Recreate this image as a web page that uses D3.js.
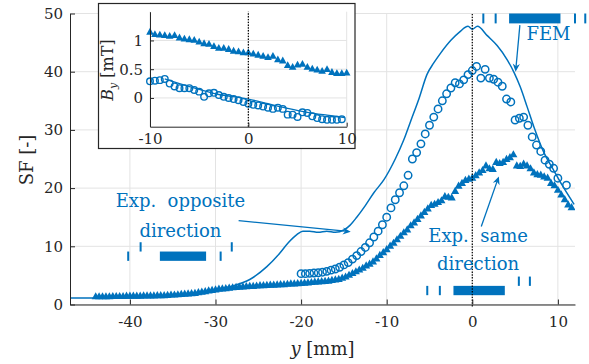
<!DOCTYPE html>
<html>
<head>
<meta charset="utf-8">
<script src="https://cdn.jsdelivr.net/npm/d3@7"></script>
<style>
  body { margin: 0; background: #fff; }
  svg { display: block; }
  svg text { font-family: "DejaVu Serif", "Liberation Serif", serif; }
</style>
</head>
<body>
<div id="chart"></div>
<script>
// ---- main plot data (y in mm, SF) ----
const xTicks = [-40, -30, -20, -10, 0, 10];
const yTicks = [0, 10, 20, 30, 40, 50];

// FEM curve
const femX = [-47, -40, -36, -33, -30, -28, -26, -24, -22.5, -21.5, -20.5, -19.8, -19, -18, -17, -16, -15, -14.3, -13.5, -12.5, -11.5, -10.3, -9, -8, -7.2, -6.2, -5.3, -4.5, -3.7, -2.5, -1.5, -0.5, 0, 0.6, 1.75, 2.9, 4.1, 4.9, 5.6, 6.4, 7.2, 8.4, 9.5, 10.5, 11.9];
const femY = [1.1, 1.15, 1.4, 1.9, 2.6, 3.2, 4.3, 6.5, 8.8, 10.6, 12.0, 12.6, 12.6, 12.4, 12.6, 12.4, 12.8, 13.6, 15.0, 17.0, 19.2, 21.5, 25.0, 28.3, 31.5, 35.5, 39.5, 41.5, 43.2, 45.4, 46.8, 47.8, 47.3, 47.8, 46.2, 44.5, 42.0, 39.8, 37.4, 34.0, 30.5, 26.0, 23.1, 20.5, 17.2];

// Exp. opposite direction (open circles)
const oppX = [-20, -19.5, -19, -18.5, -18, -17.5, -17, -16.5, -16, -15.5, -15, -14.5, -14, -13.5, -13, -12.5, -12, -11.5, -11, -10.5, -10, -9.5, -9, -8.5, -8, -7.5, -7, -6.5, -6, -5.5, -5, -4.5, -4, -3.5, -3, -2.5, -2, -1.5, -1, -0.5, 0, 0.5, 1, 1.5, 2, 2.5, 3, 3.5, 4, 4.5, 5, 5.5, 6, 6.5, 7, 7.5, 8, 8.5, 9, 9.5, 10, 11];
const oppY = [5.3, 5.3, 5.35, 5.4, 5.45, 5.55, 5.7, 5.9, 6.1, 6.4, 6.8, 7.2, 7.8, 8.4, 9.1, 9.8, 10.6, 11.6, 12.6, 13.7, 15.0, 16.6, 18.0, 19.2, 20.4, 22.2, 25.0, 26.1, 27.6, 29.3, 30.8, 32.2, 33.6, 35.0, 36.2, 37.2, 38.1, 37.9, 38.6, 39.5, 40.2, 40.9, 38.9, 40.4, 38.9, 38.7, 38.2, 37.5, 35.3, 34.8, 31.7, 32.0, 32.2, 30.8, 28.8, 27.4, 26.3, 24.8, 24.1, 23.4, 21.7, 20.5];

// Exp. same direction (filled triangles), sampled every 0.4 mm from -44 mm
const sameX = d3.range(-44, 11.61, 0.4);
const sameY = [
  1.5, 1.5, 1.5, 1.5, 1.5, 1.55, 1.55, 1.55, 1.55, 1.6,
  1.6, 1.6, 1.6, 1.6, 1.65, 1.65, 1.65, 1.65, 1.7, 1.7,
  1.7, 1.75, 1.8, 1.8, 1.85, 1.9, 1.95, 2.0, 2.05, 2.1,
  2.2, 2.3, 2.4, 2.5, 2.6, 2.7, 2.8, 2.85, 2.9, 3.0,
  3.05, 3.1, 3.15, 3.2, 3.25, 3.3, 3.3, 3.35, 3.4, 3.4,
  3.45, 3.5, 3.5, 3.55, 3.6, 3.6, 3.65, 3.7, 3.7, 3.75,
  3.8, 3.85, 3.9, 3.95, 4.0, 4.05, 4.1, 4.15, 4.2, 4.3,
  4.4, 4.5, 4.7, 4.9, 5.2, 5.5, 5.8, 6.1, 6.4, 6.8,
  7.1, 7.5, 8.0, 8.6, 9.1, 9.6, 10.2, 10.7, 11.3, 11.9,
  12.5, 13.0, 13.7, 14.2, 14.8, 15.4, 16.0, 16.6, 17.2, 17.4,
  17.7, 18.0, 18.7, 18.6, 18.5, 19.6, 20.5, 21.0, 21.5, 21.7,
  21.9, 22.3, 22.8, 23.2, 24.0, 23.5, 23.4, 24.6, 24.4, 24.6,
  25.1, 25.4, 25.9, 24.0, 23.9, 24.3, 24.0, 23.5, 22.8, 22.5,
  22.4, 22.1, 21.9, 21.0, 20.6, 19.8, 19.0, 18.2, 17.3, 16.8
];

// schematic bars [x0, x1, y0, y1] and ticks [x, y0, y1] in data units
const schemBars = [[-36.5, -31.1, 7.5, 9.1], [-2.2, 3.8, 1.6, 3.2], [4.3, 10.3, 48.3, 50.0]];
const schemTicks = [
  [-40.2, 7.5, 9.1], [-38.75, 9.1, 10.7], [-29.4, 7.5, 9.1], [-28.1, 9.1, 10.7],
  [-5.26, 1.6, 3.2], [-3.79, 1.6, 3.2], [5.44, 3.2, 4.8], [6.73, 3.2, 4.8],
  [1.29, 48.3, 50.0], [2.73, 48.3, 50.0], [12.0, 48.3, 50.0], [13.2, 48.3, 50.0]
];

// ---- inset data (By in mT) ----
const insetXTicks = [-10, 0, 10];
const insetYTicks = [0, 0.5, 1];
const inSameX = d3.range(-10, 10.01, 0.5);
const inSameY = [1.16, 1.12, 1.11, 1.10, 1.09, 1.10, 1.06, 1.04, 1.03, 1.02, 0.99, 0.96, 0.95, 0.91, 0.88, 0.88, 0.86, 0.83, 0.82, 0.80, 0.80, 0.78, 0.76, 0.74, 0.72, 0.74, 0.68, 0.66, 0.58, 0.55, 0.59, 0.60, 0.55, 0.52, 0.50, 0.48, 0.51, 0.46, 0.44, 0.44, 0.45];
const inOppX = d3.range(-10, 9.51, 0.5);
const inOppY = [0.29, 0.30, 0.31, 0.33, 0.25, 0.20, 0.17, 0.17, 0.17, 0.14, 0.11, 0.02, 0.08, 0.09, 0.05, 0.02, 0.00, -0.02, -0.04, -0.07, -0.10, -0.12, -0.13, -0.15, -0.17, -0.19, -0.17, -0.19, -0.29, -0.29, -0.33, -0.25, -0.26, -0.32, -0.35, -0.37, -0.38, -0.38, -0.38, -0.37];
const inFemX = [-8.5, -7, -5, -3, -1, 0, 2, 4, 6, 8, 9.8];
const inFemY = [0.33, 0.25, 0.15, 0.06, 0.01, -0.02, -0.10, -0.18, -0.25, -0.30, -0.34];

const blue = "#0072BD";
const axisCol = "#262626";
const gridCol = "#e3e3e3";

const svg = d3.select("#chart").append("svg")
  .attr("width", 589).attr("height", 364);

const x = d3.scaleLinear().domain([-47, 12]).range([70, 575]);
const y = d3.scaleLinear().domain([0, 50]).range([304.5, 13.5]);

svg.append("clipPath").attr("id", "clipMain")
  .append("rect").attr("x", x(-47)).attr("y", y(50)).attr("width", x(12) - x(-47)).attr("height", y(0) - y(50));

// grid
const grid = svg.append("g").attr("stroke", gridCol).attr("stroke-width", 1);
grid.selectAll("line.gx").data(xTicks).enter().append("line")
  .attr("x1", d => x(d)).attr("x2", d => x(d)).attr("y1", y(0)).attr("y2", y(50));
grid.selectAll("line.gy").data(yTicks).enter().append("line")
  .attr("x1", x(-47)).attr("x2", x(12)).attr("y1", d => y(d)).attr("y2", d => y(d));

const plot = svg.append("g").attr("clip-path", "url(#clipMain)");

// FEM line
plot.append("path")
  .datum(femX.map((d, i) => [d, femY[i]]))
  .attr("fill", "none").attr("stroke", blue).attr("stroke-width", 1.5)
  .attr("stroke-linejoin", "round")
  .attr("d", d3.line().x(d => x(d[0])).y(d => y(d[1])).curve(d3.curveMonotoneX));

// triangles
const tri = (cx, cy, w, h) => `M${cx},${cy - h / 2}L${cx + w / 2},${cy + h / 2}L${cx - w / 2},${cy + h / 2}Z`;
plot.selectAll("path.same").data(sameX.map((d, i) => [d, sameY[i]])).enter().append("path")
  .attr("d", d => tri(x(d[0]), y(d[1]), 8, 7.2))
  .attr("fill", blue);

// circles
plot.selectAll("circle.opp").data(oppX.map((d, i) => [d, oppY[i]])).enter().append("circle")
  .attr("cx", d => x(d[0])).attr("cy", d => y(d[1])).attr("r", 3.7)
  .attr("fill", "none").attr("stroke", blue).attr("stroke-width", 1.5);

// schematic bars + ticks
svg.selectAll("rect.bar").data(schemBars).enter().append("rect")
  .attr("x", d => x(d[0])).attr("width", d => x(d[1]) - x(d[0]))
  .attr("y", d => y(d[3])).attr("height", d => y(d[2]) - y(d[3]))
  .attr("fill", blue);
svg.selectAll("rect.tk").data(schemTicks).enter().append("rect")
  .attr("x", d => x(d[0]) - 1).attr("width", 2)
  .attr("y", d => y(d[2])).attr("height", d => y(d[1]) - y(d[2]))
  .attr("fill", blue);

// dotted line at y = 0
svg.append("line")
  .attr("x1", x(0)).attr("x2", x(0)).attr("y1", y(0) + 2).attr("y2", y(50))
  .attr("stroke", "#000").attr("stroke-width", 1.2).attr("stroke-dasharray", "1.4,1.4");

// axes
const xAxis = svg.append("g").attr("transform", `translate(0,${y(0)})`)
  .call(d3.axisBottom(x).tickValues(xTicks).tickSizeInner(-5).tickSizeOuter(0).tickPadding(12).tickFormat(d => String(d)));
const yAxis = svg.append("g").attr("transform", `translate(${x(-47)},0)`)
  .call(d3.axisLeft(y).tickValues(yTicks).tickSizeInner(-5).tickSizeOuter(0).tickPadding(7).tickFormat(d => String(d)));
[xAxis, yAxis].forEach(a => {
  a.attr("font-family", null);
  a.select(".domain").attr("stroke", axisCol);
  a.selectAll(".tick line").attr("stroke", axisCol);
  a.selectAll(".tick text").attr("fill", axisCol).style("font-size", "15px");
});

svg.append("text").attr("x", (x(-47) + x(12)) / 2).attr("y", 355)
  .attr("text-anchor", "middle").attr("fill", axisCol).style("font-size", "18px")
  .html('<tspan font-style="italic">y</tspan> [mm]');
svg.append("text").attr("transform", "translate(33,160) rotate(-90)")
  .attr("text-anchor", "middle").attr("fill", axisCol).style("font-size", "18px")
  .text("SF [-]");

// annotations
const ann = svg.append("g").attr("fill", blue).style("font-size", "18px");
const labels = [
  ["Exp.\u00a0 opposite", -34.1, 16.8], ["direction", -34.1, 11.65],
  ["FEM", 8.9, 45.4],
  ["Exp.\u00a0 same", 0.68, 10.8], ["direction", 0.68, 5.9]
];
ann.selectAll("text").data(labels).enter().append("text")
  .attr("x", d => x(d[1])).attr("y", d => y(d[2])).attr("text-anchor", "middle").text(d => d[0]);

const arrows = [[-27.3, 14.4, -14.2, 12.5], [5.56, 48.0, 5.06, 40.0], [1.05, 13.4, 3.1, 22.0]];
arrows.forEach(a => {
  const p1 = [x(a[0]), y(a[1])], p2 = [x(a[2]), y(a[3])];
  const len = Math.hypot(p2[0] - p1[0], p2[1] - p1[1]);
  const ux = (p2[0] - p1[0]) / len, uy = (p2[1] - p1[1]) / len;
  const L = 8, hw = 3.6, nb = 5.5;
  svg.append("line").attr("x1", p1[0]).attr("y1", p1[1])
    .attr("x2", p2[0] - ux * nb).attr("y2", p2[1] - uy * nb)
    .attr("stroke", blue).attr("stroke-width", 1.3);
  svg.append("path").attr("fill", blue).attr("d",
    `M${p2[0]},${p2[1]}` +
    `L${p2[0] - ux * L - uy * hw},${p2[1] - uy * L + ux * hw}` +
    `L${p2[0] - ux * nb},${p2[1] - uy * nb}` +
    `L${p2[0] - ux * L + uy * hw},${p2[1] - uy * L - ux * hw}Z`);
});

// ---- inset ----
const ix = d3.scaleLinear().domain([-10, 10]).range([150, 346.7]);
const iy = d3.scaleLinear().domain([-0.5, 1.5]).range([126.7, 11.7]);
const inset = svg.append("g");
inset.append("rect").attr("x", 98.5).attr("y", 3.5).attr("width", 256.5).attr("height", 145)
  .attr("fill", "#fff").attr("stroke", axisCol).attr("stroke-width", 1.2);

inset.append("g").attr("stroke", gridCol)
  .selectAll("line").data(insetYTicks).enter().append("line")
  .attr("x1", ix(-10)).attr("x2", ix(10)).attr("y1", d => iy(d)).attr("y2", d => iy(d));
inset.append("g").attr("stroke", gridCol)
  .selectAll("line").data(insetXTicks).enter().append("line")
  .attr("x1", d => ix(d)).attr("x2", d => ix(d)).attr("y1", iy(-0.5)).attr("y2", iy(1.5));

inset.append("path")
  .datum(inFemX.map((d, i) => [d, inFemY[i]]))
  .attr("fill", "none").attr("stroke", blue).attr("stroke-width", 1.3)
  .attr("d", d3.line().x(d => ix(d[0])).y(d => iy(d[1])).curve(d3.curveMonotoneX));
inset.selectAll("path.isame").data(inSameX.map((d, i) => [d, inSameY[i]])).enter().append("path")
  .attr("d", d => tri(ix(d[0]), iy(d[1]), 7.6, 6.8)).attr("fill", blue);
inset.selectAll("circle").data(inOppX.map((d, i) => [d, inOppY[i]])).enter().append("circle")
  .attr("cx", d => ix(d[0])).attr("cy", d => iy(d[1])).attr("r", 3.3)
  .attr("fill", "none").attr("stroke", blue).attr("stroke-width", 1.4);

inset.append("line")
  .attr("x1", ix(0)).attr("x2", ix(0)).attr("y1", iy(-0.5)).attr("y2", iy(1.5))
  .attr("stroke", "#000").attr("stroke-width", 1.2).attr("stroke-dasharray", "1.4,1.4");

const ixAxis = inset.append("g").attr("transform", `translate(0,${iy(-0.5)})`)
  .call(d3.axisBottom(ix).tickValues(insetXTicks).tickSizeInner(-4).tickSizeOuter(0).tickPadding(7).tickFormat(d => String(d)));
const iyAxis = inset.append("g").attr("transform", `translate(${ix(-10)},0)`)
  .call(d3.axisLeft(iy).tickValues(insetYTicks).tickSizeInner(-4).tickSizeOuter(0).tickPadding(7).tickFormat(d => String(d)));
[ixAxis, iyAxis].forEach(a => {
  a.attr("font-family", null);
  a.select(".domain").attr("stroke", axisCol);
  a.selectAll(".tick line").attr("stroke", axisCol);
  a.selectAll(".tick text").attr("fill", axisCol).style("font-size", "15px");
});
inset.append("text").attr("transform", "translate(113,70) rotate(-90)")
  .attr("text-anchor", "middle").attr("fill", axisCol).style("font-size", "16px")
  .html('<tspan font-style="italic">B</tspan><tspan font-style="italic" font-size="11px" dy="4">y</tspan><tspan dy="-4"> [mT]</tspan>');
</script>
</body>
</html>
